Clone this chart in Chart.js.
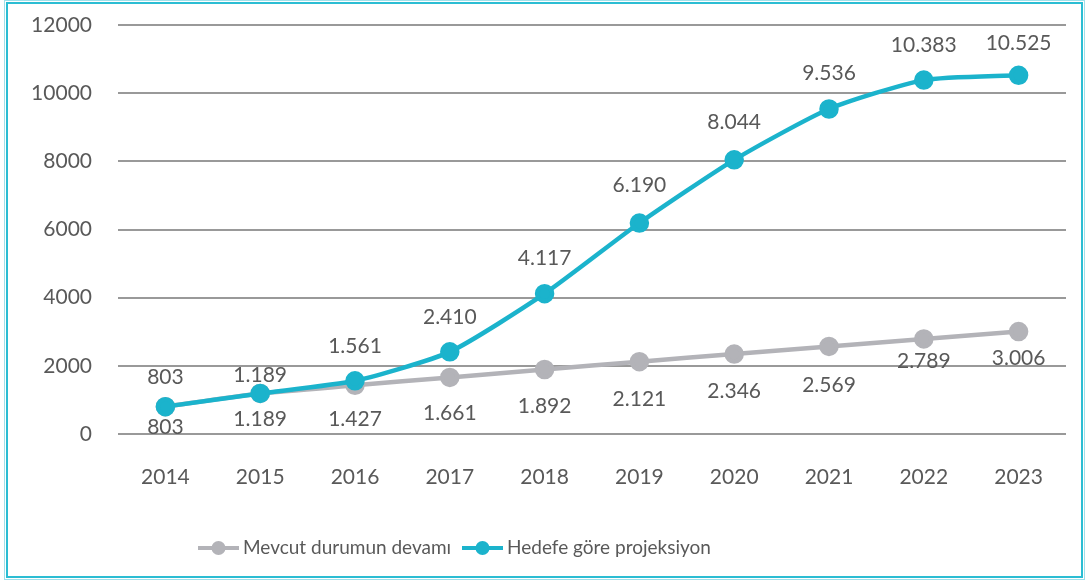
<!DOCTYPE html>
<html>
<head>
<meta charset="utf-8">
<script src="https://cdn.jsdelivr.net/npm/chart.js@4"></script>
<style>
    body { margin: 0; background: #fff; }
    canvas { display: block; }
</style>
</head>
<body>
<canvas id="projChart" width="1086" height="580"></canvas>
<script>
// Data
const years = ['2014', '2015', '2016', '2017', '2018', '2019', '2020', '2021', '2022', '2023'];
const mevcutDurum = [803, 1189, 1427, 1661, 1892, 2121, 2346, 2569, 2789, 3006];
const hedefProjeksiyon = [803, 1189, 1561, 2410, 4117, 6190, 8044, 9536, 10383, 10525];
const seriesNames = ['Mevcut durumun devamı', 'Hedefe göre projeksiyon'];
const yTicks = [0, 2000, 4000, 6000, 8000, 10000, 12000];

const GRAY = '#b3b3b8';
const TEAL = '#1bb3cc';
const TEXT = '#595959';
const FONT = 'Lato, "Open Sans", sans-serif';

// thousands with a dot, like 10.525
function fmt(n) {
    return String(n).replace(/\B(?=(\d{3})+(?!\d))/g, '.');
}

// background + teal frame
const framePlugin = {
    id: 'frame',
    beforeDraw(chart) {
        const ctx = chart.ctx;
        ctx.save();
        ctx.fillStyle = '#fff';
        ctx.fillRect(0, 0, chart.width, chart.height);
        ctx.strokeStyle = '#9fe0ea';
        ctx.lineWidth = 1;
        ctx.strokeRect(4.5, 0.5, chart.width - 6, chart.height - 1);
        ctx.strokeStyle = '#2bbdd3';
        ctx.lineWidth = 2;
        ctx.strokeRect(7, 3, chart.width - 11, chart.height - 6);
        ctx.restore();
    }
};

// value labels next to each point
const pointLabels = {
    id: 'pointLabels',
    afterDatasetsDraw(chart, args, opts) {
        const ctx = chart.ctx;
        ctx.save();
        ctx.font = '21px ' + FONT;
        ctx.fillStyle = TEXT;
        ctx.textAlign = 'center';
        ctx.textBaseline = 'middle';
        chart.data.datasets.forEach((ds, di) => {
            const meta = chart.getDatasetMeta(di);
            meta.data.forEach((pt, i) => {
                const dy = opts.offsets[di][i];
                ctx.fillText(fmt(ds.data[i]), pt.x, pt.y + dy);
            });
        });
        ctx.restore();
    }
};

// legend with line + dot marker, placed like the original
const lineLegend = {
    id: 'lineLegend',
    afterDraw(chart, args, opts) {
        const ctx = chart.ctx;
        ctx.save();
        ctx.font = opts.fontSize + 'px ' + FONT;
        ctx.textBaseline = 'middle';
        const y = opts.y;
        chart.data.datasets.forEach((ds, i) => {
            const x = opts.xs[i];
            ctx.strokeStyle = ds.borderColor;
            ctx.lineWidth = 4;
            ctx.beginPath();
            ctx.moveTo(x, y);
            ctx.lineTo(x + 41, y);
            ctx.stroke();
            ctx.fillStyle = ds.borderColor;
            ctx.beginPath();
            ctx.arc(x + 20.5, y, 7, 0, Math.PI * 2);
            ctx.fill();
            ctx.fillStyle = TEXT;
            ctx.fillText(ds.label, x + 45, y);
        });
        ctx.restore();
    }
};

const ctx = document.getElementById('projChart').getContext('2d');
new Chart(ctx, {
    type: 'line',
    data: {
        labels: years,
        datasets: [
            {
                label: seriesNames[0],
                data: mevcutDurum,
                borderColor: GRAY,
                backgroundColor: GRAY,
                borderWidth: 4.5,
                pointRadius: 7.5,
                pointHoverRadius: 7.5,
                tension: 0.2,
                order: 1
            },
            {
                label: seriesNames[1],
                data: hedefProjeksiyon,
                borderColor: TEAL,
                backgroundColor: TEAL,
                borderWidth: 4.5,
                pointRadius: 7.5,
                pointHoverRadius: 7.5,
                tension: 0.2,
                order: 0
            }
        ]
    },
    options: {
        responsive: false,
        animation: false,
        devicePixelRatio: 1,
        layout: {
            padding: { left: 0, right: 20, top: 25, bottom: 0 }
        },
        scales: {
            x: {
                offset: true,
                grid: { display: false },
                border: { display: false },
                ticks: {
                    color: TEXT,
                    font: { family: FONT, size: 21 },
                    padding: 23,
                    maxRotation: 0
                },
                afterFit(scale) { scale.height = 146; }
            },
            y: {
                min: 0,
                max: 12000,
                afterBuildTicks(scale) {
                    scale.ticks = yTicks.map(v => ({ value: v }));
                },
                grid: { color: '#999', lineWidth: 2, drawTicks: true, tickLength: 26, tickColor: 'rgba(0,0,0,0)' },
                border: { display: false },
                ticks: {
                    color: TEXT,
                    font: { family: FONT, size: 21 },
                    padding: 0,
                    callback: v => String(v)
                },
                afterFit(scale) { scale.width = 118; }
            }
        },
        plugins: {
            legend: { display: false },
            tooltip: { enabled: false },
            pointLabels: {
                offsets: [
                    [21, 26, 34, 36, 37, 38, 37, 39, 22, 27],
                    [-29, -18, -35, -35, -35, -38, -38, -36, -35, -32]
                ]
            },
            lineLegend: { xs: [198, 462], y: 548, fontSize: 19 }
        }
    },
    plugins: [framePlugin, pointLabels, lineLegend]
});
</script>
</body>
</html>
